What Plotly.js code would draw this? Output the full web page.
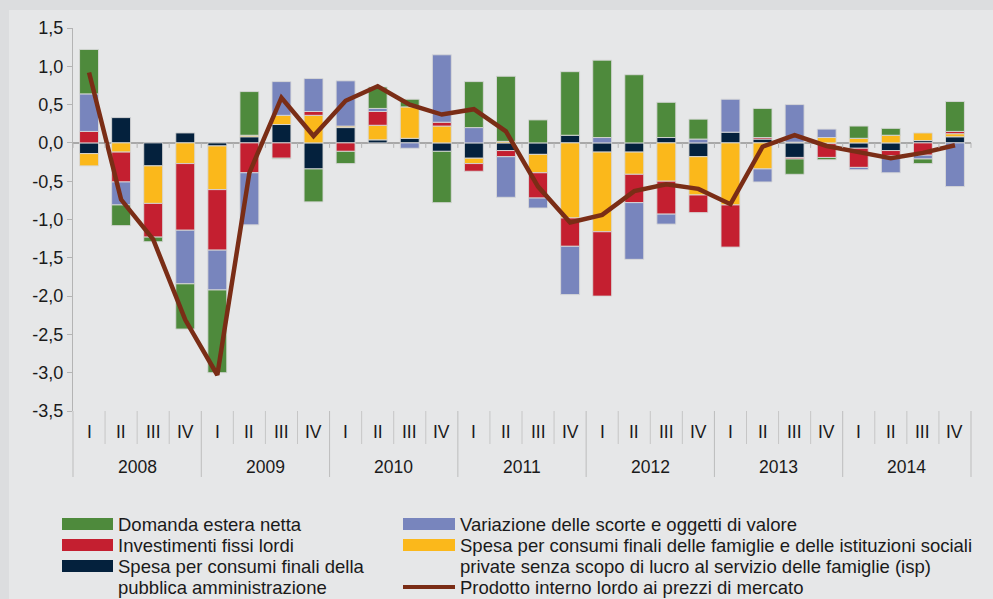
<!DOCTYPE html>
<html>
<head>
<meta charset="utf-8">
<script src="https://cdn.plot.ly/plotly-3.0.1.min.js"></script>
<style>
  html, body { margin: 0; padding: 0; background: #dcdddf; }
  #chart { width: 993px; height: 599px; }
</style>
</head>
<body>
<div id="chart"></div>
<script>
// Contributi alla crescita del PIL (punti percentuali), dati trimestrali 2008-2014
const years = ['2008', '2009', '2010', '2011', '2012', '2013', '2014'];
const quarters = ['I', 'II', 'III', 'IV'];

// stacking order = trace order (PA nearest zero, then famiglie, investimenti, scorte, estera)
const spesaPA = [
  -0.14, 0.33, -0.30, 0.13,
  -0.04, 0.08, 0.24, -0.34,
  0.20, 0.04, 0.06, -0.11,
  -0.20, -0.10, -0.15, 0.10,
  -0.12, -0.12, 0.07, -0.18,
  0.14, 0.05, -0.19, -0.01,
  -0.07, -0.10, 0.03, 0.08
];
const spesaFamiglie = [
  -0.16, -0.12, -0.49, -0.27,
  -0.57, 0.02, 0.12, 0.36,
  0.02, 0.19, 0.41, 0.22,
  -0.07, 0.02, -0.24, -0.98,
  -1.04, -0.29, -0.50, -0.50,
  -0.81, -0.34, 0.01, 0.07,
  0.06, 0.10, 0.10, 0.04
];
const investimenti = [
  0.15, -0.39, -0.44, -0.87,
  -0.79, -0.39, -0.20, 0.05,
  -0.11, 0.18, null, 0.05,
  -0.10, -0.08, -0.33, -0.37,
  -0.84, -0.37, -0.43, -0.23,
  -0.55, 0.02, -0.02, -0.18,
  -0.25, -0.07, -0.16, 0.03
];
const scorte = [
  0.49, -0.30, null, -0.70,
  -0.52, -0.68, 0.44, 0.43,
  0.59, 0.04, -0.07, 0.88,
  0.20, -0.53, -0.13, -0.63,
  0.07, -0.74, -0.13, 0.05,
  0.43, -0.17, 0.49, 0.11,
  -0.03, -0.22, -0.05, -0.57
];
const domandaEstera = [
  0.58, -0.27, -0.06, -0.59,
  -1.08, 0.57, -0.01, -0.43,
  -0.16, 0.28, 0.10, -0.67,
  0.60, 0.85, 0.30, 0.83,
  1.01, 0.89, 0.46, 0.26,
  null, 0.38, -0.20, -0.03,
  0.16, 0.09, -0.06, 0.39
];
const pil = [
  0.92, -0.74, -1.26, -2.31,
  -3.03, -0.39, 0.59, 0.09,
  0.55, 0.74, 0.50, 0.37,
  0.44, 0.15, -0.57, -1.04,
  -0.94, -0.63, -0.54, -0.60,
  -0.80, -0.05, 0.10, -0.04,
  -0.12, -0.20, -0.13, -0.03
];

const yTickVals = [1.5, 1.0, 0.5, 0.0, -0.5, -1.0, -1.5, -2.0, -2.5, -3.0, -3.5];
const yTickText = ['1,5', '1,0', '0,5', '0,0', '-0,5', '-1,0', '-1,5', '-2,0', '-2,5', '-3,0', '-3,5'];

const colors = {
  estera: '#4e8a3c',
  scorte: '#7885bd',
  investimenti: '#c41f30',
  famiglie: '#fbb81b',
  pa: '#04213d',
  pil: '#7a2d16'
};

// multicategory x: [years, quarters]
const xYears = [];
const xQuarters = [];
years.forEach(y => quarters.forEach(q => { xYears.push(y); xQuarters.push(q); }));
const x = [xYears, xQuarters];
const nCat = xQuarters.length;

const barLine = { color: 'rgba(215,215,215,0.9)', width: 1 };

function bar(y, color) {
  return { type: 'bar', x: x, y: y, marker: { color: color, line: barLine }, showlegend: false, hoverinfo: 'y' };
}

const traces = [
  bar(spesaPA, colors.pa),
  bar(spesaFamiglie, colors.famiglie),
  bar(investimenti, colors.investimenti),
  bar(scorte, colors.scorte),
  bar(domandaEstera, colors.estera),
  {
    type: 'scatter', mode: 'lines', x: x, y: pil,
    line: { color: colors.pil, width: 4.5 }, showlegend: false
  }
];

// plot area in pixels: left 73, right 971, top 28, bottom 411
const L = 73, R = 971, T = 28, B = 411;
const px = v => (v - L) / (R - L);
const py = v => (B - v) / (B - T);

const shapes = [
  // inner panel
  { type: 'rect', xref: 'paper', yref: 'paper', x0: px(9), x1: px(993), y0: py(599), y1: py(10),
    fillcolor: '#e6e7e8', line: { width: 0 }, layer: 'below' }
];
const annotations = [];

// category axis furniture: boundary ticks, year dividers, labels
const tickGrey = '#c6c6c6';
for (let k = 0; k <= nCat; k++) {
  const xf = k / nCat;
  // small ticks under the zero line
  shapes.push({ type: 'line', xref: 'paper', yref: 'y', ysizemode: 'pixel', yanchor: 0,
    x0: xf, x1: xf, y0: 0, y1: -5, line: { color: '#b4b4b4', width: 1 } });
  const isYear = k % quarters.length === 0;
  shapes.push({ type: 'line', xref: 'paper', yref: 'paper', x0: xf, x1: xf,
    y0: 0, y1: py(isYear ? 477 : 444), line: { color: isYear ? '#bdbdbd' : tickGrey, width: 1 } });
}
xQuarters.forEach((q, i) => {
  annotations.push({ xref: 'paper', yref: 'paper', x: (i + 0.5) / nCat, y: py(432),
    xanchor: 'center', yanchor: 'middle', showarrow: false, text: q,
    font: { size: 17.5, color: '#1a1a1a' } });
});
years.forEach((yr, j) => {
  annotations.push({ xref: 'paper', yref: 'paper', x: (j * quarters.length + quarters.length / 2) / nCat, y: py(467),
    xanchor: 'center', yanchor: 'middle', showarrow: false, text: yr,
    font: { size: 17.5, color: '#1a1a1a' } });
});

// legend (two columns), one annotation per text line
const legendItems = [
  { lines: ['Domanda estera netta'], color: colors.estera, col: 0, y: 524 },
  { lines: ['Variazione delle scorte e oggetti di valore'], color: colors.scorte, col: 1, y: 524 },
  { lines: ['Investimenti fissi lordi'], color: colors.investimenti, col: 0, y: 545 },
  { lines: ['Spesa per consumi finali delle famiglie e delle istituzioni sociali',
            'private senza scopo di lucro al servizio delle famiglie (isp)'], color: colors.famiglie, col: 1, y: 545 },
  { lines: ['Spesa per consumi finali della', 'pubblica amministrazione'], color: colors.pa, col: 0, y: 566 },
  { lines: ['Prodotto interno lordo ai prezzi di mercato'], color: colors.pil, col: 1, y: 587, isLine: true }
];
const colSwatch = [[62, 113], [403, 455]];
const colText = [116, 458];
const lineStep = 21;
legendItems.forEach(it => {
  const [sx0, sx1] = colSwatch[it.col];
  if (it.isLine) {
    shapes.push({ type: 'line', xref: 'paper', yref: 'paper', x0: px(sx0), x1: px(sx1), y0: py(it.y), y1: py(it.y),
      line: { color: it.color, width: 4 } });
  } else {
    shapes.push({ type: 'rect', xref: 'paper', yref: 'paper', x0: px(sx0), x1: px(sx1), y0: py(it.y + 6), y1: py(it.y - 6),
      fillcolor: it.color, line: { width: 0 } });
  }
  it.lines.forEach((t, k) => {
    annotations.push({
      xref: 'paper', yref: 'paper', x: px(colText[it.col]), y: py(it.y + k * lineStep),
      xanchor: 'left', yanchor: 'middle', align: 'left', showarrow: false,
      text: t, font: { size: 18.5, color: '#1a1a1a' }
    });
  });
});

const layout = {
  width: 993,
  height: 599,
  margin: { l: L, r: 993 - R, t: T, b: 599 - B, pad: 0 },
  paper_bgcolor: '#dcdddf',
  plot_bgcolor: 'rgba(0,0,0,0)',
  font: { family: '"Liberation Sans", Arial, sans-serif', size: 16, color: '#1a1a1a' },
  barmode: 'relative',
  bargap: 0.41,
  showlegend: false,
  xaxis: {
    type: 'multicategory',
    showgrid: false,
    showline: false,
    zeroline: false,
    ticks: '',
    showticklabels: false,
    showdividers: false
  },
  yaxis: {
    range: [-3.5, 1.5],
    tickvals: yTickVals,
    ticktext: yTickText,
    showgrid: false,
    showline: true,
    linecolor: '#b4b4b4',
    linewidth: 1,
    ticks: 'outside',
    ticklen: 5,
    tickcolor: '#b4b4b4',
    zeroline: true,
    zerolinecolor: '#a8a8a8',
    zerolinewidth: 1.5,
    tickfont: { size: 18, color: '#1a1a1a' }
  },
  shapes: shapes,
  annotations: annotations
};

Plotly.newPlot('chart', traces, layout, { displayModeBar: false, staticPlot: true });
</script>
</body>
</html>
